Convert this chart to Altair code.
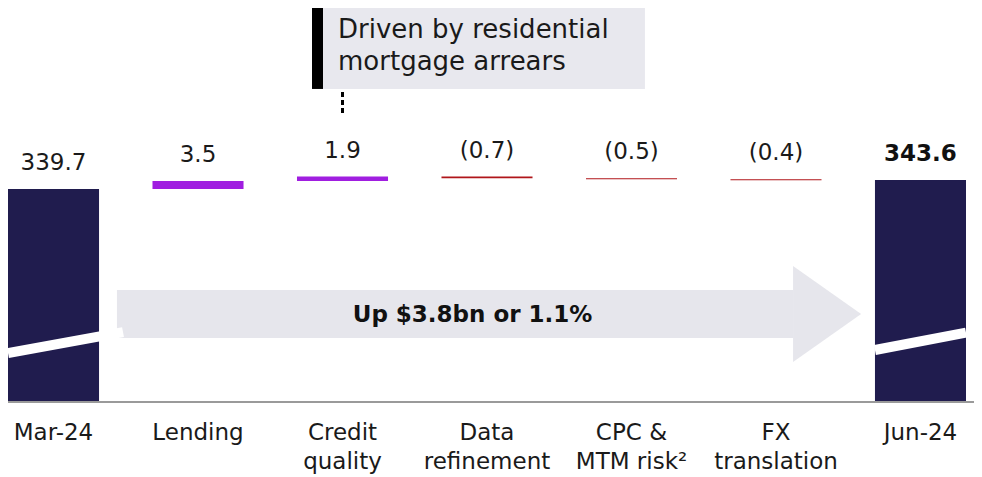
import altair as alt
import pandas as pd

# ---- data ----
categories = ["Mar-24", "Lending", "Credit\nquality", "Data\nrefinement",
              "CPC &\nMTM risk²", "FX\ntranslation", "Jun-24"]
values = [339.7, 3.5, 1.9, -0.7, -0.5, -0.4, 343.6]
kinds = ["total", "inc", "inc", "dec", "dec", "dec", "total"]
value_labels = ["339.7", "3.5", "1.9", "(0.7)", "(0.5)", "(0.4)", "343.6"]

arrow_text = "Up $3.8bn or 1.1%"
note_lines = ["Driven by residential", "mortgage arrears"]

# broken (truncated) value axis
Y_MIN, Y_MAX = 247.1, 418.4

# ---- layout constants ----
W, H = 958, 394
PAD_R, PAD_B = 8, 75
PAD_INNER = 0.37
N = len(categories)
STEP = W / (N - PAD_INNER)
BW = STEP * (1 - PAD_INNER)
C0 = BW / 2
IDX_DOMAIN = [-C0 / STEP, (W - C0) / STEP]
IDX_RIGHT_EDGE = (W + PAD_R - C0) / STEP
HALF = (1 - PAD_INNER) / 2

NAVY = "#201c4e"
PURPLE = "#a01ee0"
RED = "#b0161a"
LIGHT = "#e6e6ec"
FONT = "DejaVu Sans"
INK = "#1a1a1a"

# ---- waterfall table ----
rows = []
run = 0.0
for i, (c, v, k, lab) in enumerate(zip(categories, values, kinds, value_labels)):
    if k == "total":
        s, e = Y_MIN, v
        run = v
    else:
        s, e = run, run + v
        run = e
    rows.append(dict(i=i, x=i - HALF, x2=i + HALF, start=s, end=e, top=max(s, e),
                     kind=k, label=lab, cat=c, base=Y_MIN))
df = pd.DataFrame(rows)

xscale = alt.Scale(domain=IDX_DOMAIN, nice=False, zero=False)
yscale = alt.Scale(domain=[Y_MIN, Y_MAX], nice=False, zero=False)

xq = lambda f: alt.X(f, type="quantitative", scale=xscale, axis=None)
yq = lambda f: alt.Y(f, type="quantitative", scale=yscale, axis=None)

bars = alt.Chart(df).mark_bar().encode(
    x=xq("x"), x2="x2:Q", y=yq("start"), y2="end:Q",
    color=alt.Color("kind:N", scale=alt.Scale(domain=["total", "inc", "dec"],
                                               range=[NAVY, PURPLE, RED]), legend=None),
)

lbl_norm = alt.Chart(df).transform_filter("datum.label != '343.6'").mark_text(
    font=FONT, fontSize=23, dy=-19, baseline="alphabetic", color=INK
).encode(x=xq("i"), y=yq("top"), text="label:N")

lbl_bold = alt.Chart(df).transform_filter("datum.label == '343.6'").mark_text(
    font=FONT, fontSize=23, fontWeight="bold", dy=-19, baseline="alphabetic", color="#111111"
).encode(x=xq("i"), y=yq("top"), text="label:N")

cat_lbl = alt.Chart(df).mark_text(
    font=FONT, fontSize=23, baseline="top", dy=20, lineHeight=29, lineBreak="\n", color=INK
).encode(x=xq("i"), y=yq("base"), text="cat:N")

# ---- decorations in index / value units ----
body = pd.DataFrame({"x": [0.439], "x2": [5.118], "y": [274.9], "y2": [295.8]})
arrow_body = alt.Chart(body).mark_rect(color=LIGHT).encode(
    x=xq("x"), x2="x2:Q", y=yq("y"), y2="y2:Q")

head = pd.DataFrame({"x": [5.118, 5.589], "y": [306.2, 285.4], "y2": [264.5, 285.4]})
arrow_head = alt.Chart(head).mark_area(color=LIGHT, orient="vertical").encode(
    x=xq("x"), y=yq("y"), y2="y2:Q")

atext = alt.Chart(pd.DataFrame({"x": [2.90], "y": [284.9], "t": [arrow_text]})).mark_text(
    font=FONT, fontSize=23, fontWeight="bold", color="#111111", baseline="middle"
).encode(x=xq("x"), y=yq("y"), text="t:N")

slash_df = pd.DataFrame({
    "x": [IDX_DOMAIN[0], 0.481, 5.685, IDX_DOMAIN[1]],
    "y": [268.4, 277.5, 269.7, 277.3],
    "g": ["a", "a", "b", "b"],
})
slashes = alt.Chart(slash_df).mark_line(color="white", strokeWidth=10, strokeCap="butt").encode(
    x=xq("x"), y=yq("y"), detail="g:N")

axis_line = alt.Chart(pd.DataFrame({"x": [IDX_DOMAIN[0]], "x2": [IDX_RIGHT_EDGE], "y": [Y_MIN]})).mark_rule(
    color="#9a9a9a", strokeWidth=2).encode(x=xq("x"), x2="x2:Q", y=yq("y"))

box = alt.Chart(pd.DataFrame({"x": [1.865], "x2": [4.093], "y": [383.2], "y2": [Y_MAX]})).mark_rect(
    color="#e8e8ee").encode(x=xq("x"), x2="x2:Q", y=yq("y"), y2="y2:Q")
box_bar = alt.Chart(pd.DataFrame({"x": [1.789], "x2": [1.865], "y": [383.2], "y2": [Y_MAX]})).mark_rect(
    color="#000000").encode(x=xq("x"), x2="x2:Q", y=yq("y"), y2="y2:Q")
dash = alt.Chart(pd.DataFrame({"x": [2.0], "y": [372.7], "y2": [381.9]})).mark_rule(
    color="#000000", strokeWidth=3, strokeDash=[5, 3]).encode(x=xq("x"), y=yq("y"), y2="y2:Q")
note = alt.Chart(pd.DataFrame({"x": [1.969, 1.969], "y": [408.8, 394.9], "t": note_lines})).mark_text(
    font=FONT, fontSize=26, align="left", baseline="middle", color=INK
).encode(x=xq("x"), y=yq("y"), text="t:N")

chart = alt.layer(
    bars, lbl_norm, lbl_bold, cat_lbl, arrow_body, arrow_head, atext, slashes, axis_line,
    box, box_bar, dash, note
).properties(
    width=W, height=H,
    autosize=alt.AutoSizeParams(type="none"),
    padding={"left": 0, "top": 0, "right": PAD_R, "bottom": PAD_B},
).configure_view(stroke=None)

chart.save("out.html", embed_options={"renderer": "svg", "actions": False})
